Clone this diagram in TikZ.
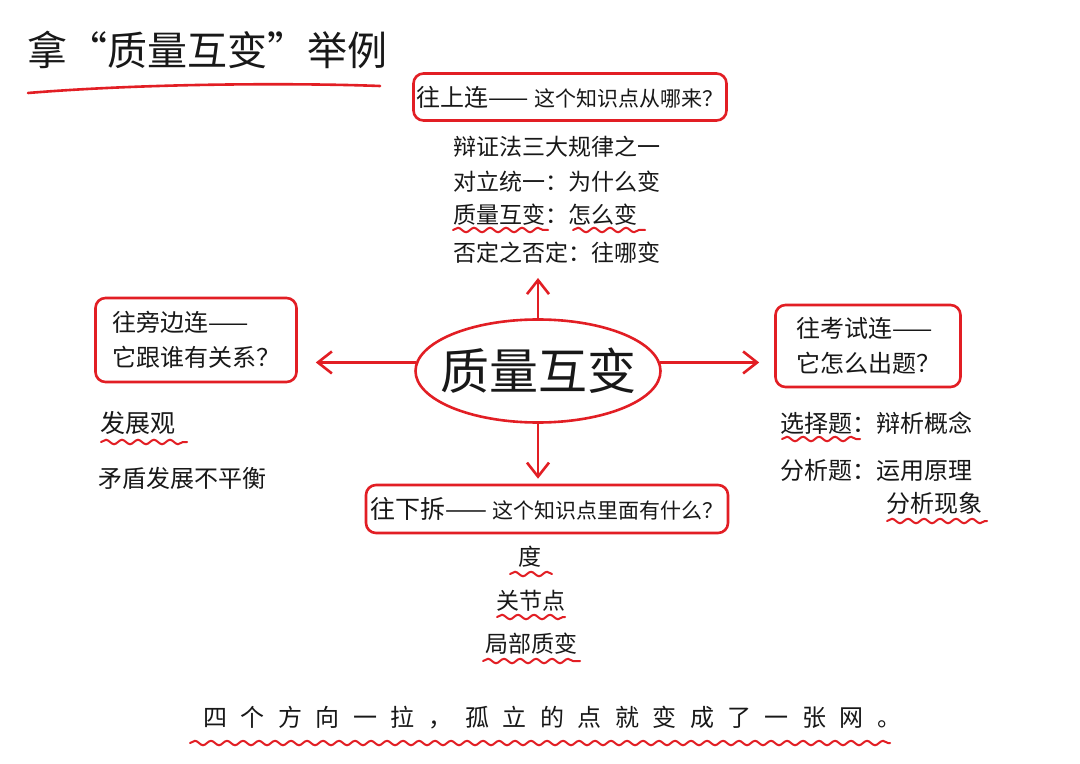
\documentclass[tikz,border=0pt]{standalone}
\usepackage{fontspec}
\setmainfont{Noto Sans CJK SC}
\newfontfamily\widecjk[LetterSpace=56]{Noto Sans CJK SC}
\usetikzlibrary{arrows.meta,shapes.geometric,decorations.pathmorphing}
\definecolor{penred}{RGB}{226,30,36}
\definecolor{inkblack}{RGB}{24,24,24}
\newcommand{\fsz}[1]{\fontsize{#1}{1.45\dimexpr#1pt\relax}\selectfont}

\begin{document}
\begin{tikzpicture}[
    x=0.5pt,
    y=-0.5pt,
    every node/.style={text=inkblack, font=\fsz{11.5}},
    pen/.style={draw=penred, line width=1.3pt, line cap=round},
    askbox/.style={pen, rounded corners=5pt, inner sep=0pt},
    hubshape/.style={pen, ellipse, inner sep=0pt, minimum width=122.5pt, minimum height=51.5pt},
    link/.style={pen, -{Straight Barb[length=7pt, width=11pt, line width=1.3pt]}},
    itemtxt/.style={anchor=west, inner sep=0pt},
    midtxt/.style={inner sep=0pt},
    wavy/.style={pen, line width=1pt, decorate,
      decoration={snake, segment length=8pt, amplitude=1.1pt}}
  ]
    \fill[white] (0,0) rectangle (1080,764);
    \useasboundingbox (0,0) rectangle (1080,764);

    % title
    \node[itemtxt, font=\fsz{20}] (title) at (27,50) {拿“质量互变”举例};
    \draw[pen] (28,93) .. controls (150,83) and (300,83) .. (380,86);

    % centre
    \node[hubshape, font=\fsz{24.5}] (hub) at (538,371) {\makebox[0pt]{质量互变}};

    % four directions
    \node[askbox, minimum width=156.5pt, minimum height=23.5pt] (upbox) at (570,97)
      {{\fsz{12}往上连——} {\fsz{10.5}这个知识点从哪来？}};
    \node[askbox, minimum width=100.5pt, minimum height=42pt, font=\fsz{12}, align=left] (leftbox) at (196,340)
      {往旁边连——\\它跟谁有关系？};
    \node[askbox, minimum width=92.5pt, minimum height=41pt, font=\fsz{12}, align=left] (rightbox) at (868,346)
      {往考试连——\\它怎么出题？};
    \node[askbox, minimum width=181pt, minimum height=24pt] (downbox) at (547,509)
      {{\fsz{12.5}往下拆——} {\fsz{10.5}这个知识点里面有什么？}};

    \coordinate (uptip) at (538,278);
    \draw[link] (hub.north) -- (uptip);
    \draw[link, shorten >=2.5pt] (hub.south) -- (hub.south |- downbox.north);
    \draw[link, shorten >=9pt] (hub.176) -- (hub.176 -| leftbox.east);
    \draw[link, shorten >=7.5pt] (hub.4) -- (hub.4 -| rightbox.west);

    % up
    \node[itemtxt] (why1) at (453,147) {辩证法三大规律之一};
    \node[itemtxt] (why2) at (453,182) {对立统一：为什么变};
    \node[itemtxt] (why3) at (453,215) {质量互变：怎么变};
    \node[itemtxt] (why4) at (453,253) {否定之否定：往哪变};
    \draw[wavy] (453,230) -- (548,230);
    \draw[wavy] (573,230) -- (645,230);

    % left
    \node[itemtxt, font=\fsz{12.5}] (rel1) at (100,423) {发展观};
    \node[itemtxt, font=\fsz{12}] (rel2) at (98,478) {矛盾发展不平衡};
    \draw[wavy] (101,442) -- (187,442);

    % right
    \node[itemtxt, font=\fsz{12}] (exam1) at (780,423) {选择题：辩析概念};
    \node[itemtxt, font=\fsz{12}] (exam2) at (780,470) {分析题：运用原理};
    \node[itemtxt, font=\fsz{12}] (exam3) at (886,503) {分析现象};
    \draw[wavy] (782,439) -- (860,439);
    \draw[wavy] (887,521) -- (987,521);

    % down
    \node[midtxt] (part1) at (530,557) {度};
    \node[midtxt] (part2) at (531,601) {关节点};
    \node[midtxt] (part3) at (531,644) {局部质变};
    \draw[wavy] (510,574) -- (552,574);
    \draw[wavy] (497,617) -- (565,617);
    \draw[wavy] (483,661) -- (580,661);

    % closing line
    \node[itemtxt, font=\widecjk\fsz{12}] (moral) at (203,718)
      {四个方向一拉，孤立的点就变成了一张网。};
    \draw[wavy] (190,743) -- (890,743);
  \end{tikzpicture}
\end{document}
